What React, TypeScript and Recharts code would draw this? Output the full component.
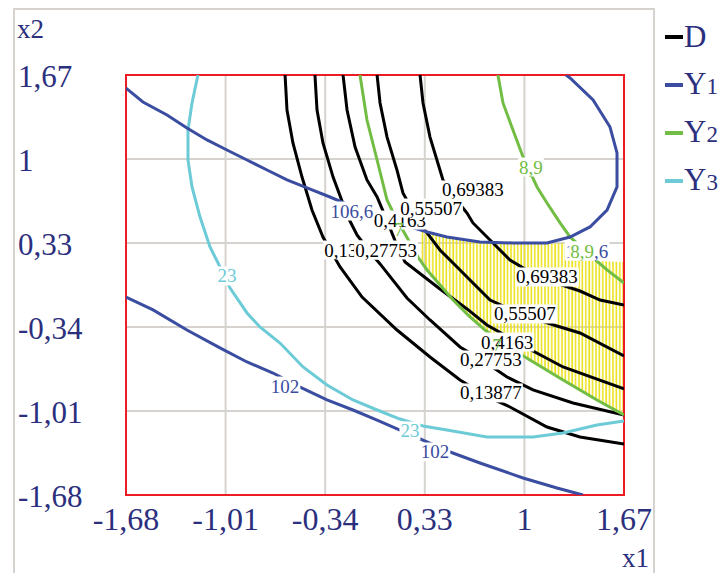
import React from 'react'
import {
  ComposedChart, Line, Area, Scatter, XAxis, YAxis, CartesianGrid, ReferenceArea,
} from 'recharts'

// axes
const xTicks = [-1.68, -1.01, -0.34, 0.33, 1, 1.67]
const yTicks = [-1.68, -1.01, -0.34, 0.33, 1, 1.67]
const tickLabels = ['-1,68', '-1,01', '-0,34', '0,33', '1', '1,67']

// D contours (0,13877 ... 0,69383)
const dLevel1 = [[-0.610, 1.67], [-0.597, 1.391], [-0.557, 1.128], [-0.496, 0.856], [-0.429, 0.593], [-0.355, 0.378], [-0.240, 0.139], [-0.092, -0.101], [0.143, -0.364], [0.365, -0.579], [0.567, -0.763], [0.769, -0.906], [0.903, -0.978], [1.152, -1.138], [1.374, -1.217], [1.67, -1.273]]
const dLevel2 = [[-0.409, 1.67], [-0.395, 1.391], [-0.355, 1.128], [-0.287, 0.856], [-0.187, 0.537], [-0.126, 0.394], [-0.039, 0.258], [0.029, 0.163], [0.210, -0.109], [0.365, -0.284], [0.567, -0.499], [0.735, -0.619], [0.883, -0.739], [1.058, -0.842], [1.327, -0.946], [1.67, -1.042]]
const dLevel3 = [[-0.220, 1.67], [-0.193, 1.391], [-0.139, 1.096], [-0.059, 0.833], [0.009, 0.697], [0.069, 0.529], [0.136, 0.330], [0.197, 0.178], [0.432, -0.037], [0.614, -0.196], [0.748, -0.324], [1.058, -0.531], [1.260, -0.659], [1.67, -0.834]]
const dLevel4 = [[0.009, 1.67], [0.029, 1.447], [0.076, 1.175], [0.143, 0.912], [0.183, 0.729], [0.264, 0.553], [0.345, 0.410], [0.432, 0.274], [0.547, 0.139], [0.654, 0.011], [0.769, -0.125], [1.004, -0.252], [1.219, -0.332], [1.374, -0.388], [1.67, -0.571]]
const dLevel5 = [[0.298, 1.67], [0.318, 1.447], [0.365, 1.175], [0.432, 0.912], [0.452, 0.833], [0.533, 0.689], [0.614, 0.569], [0.654, 0.490], [0.789, 0.330], [0.903, 0.194], [1.105, 0.051], [1.374, -0.053], [1.509, -0.125], [1.67, -0.164]]

// Y1 contours (106,6 and 102)
const y1Upper = [[-1.68, 1.566], [-1.566, 1.455], [-1.404, 1.351], [-1.270, 1.247], [-1.135, 1.152], [-1.001, 1.072], [-0.866, 0.992], [-0.731, 0.912], [-0.597, 0.833], [-0.462, 0.769], [-0.308, 0.697], [-0.018, 0.553], [0.345, 0.418], [0.479, 0.378], [0.701, 0.338], [0.923, 0.330], [1.152, 0.330], [1.307, 0.378], [1.441, 0.458], [1.556, 0.593], [1.623, 0.777], [1.623, 1.048], [1.576, 1.255], [1.462, 1.471], [1.307, 1.646], [1.28, 1.67]]
const y1Lower = [[-1.68, -0.101], [-1.498, -0.204], [-1.270, -0.364], [-1.048, -0.507], [-0.866, -0.619], [-0.691, -0.707], [-0.509, -0.819], [-0.328, -0.922], [-0.153, -1.002], [0.009, -1.082], [0.163, -1.162], [0.500, -1.337], [0.701, -1.425], [0.991, -1.544], [1.219, -1.624], [1.394, -1.68]]

// Y2 contours (7 and 8,9)
const y2Lower = [[-0.106, 1.67], [-0.059, 1.311], [0.009, 0.992], [0.076, 0.673], [0.109, 0.593], [0.163, 0.474], [0.284, 0.218], [0.345, 0.115], [0.520, -0.125], [0.634, -0.260], [0.735, -0.364], [0.870, -0.484], [1.004, -0.579], [1.260, -0.763], [1.488, -0.922], [1.67, -1.042]]
const y2Upper = [[0.822, 1.67], [0.856, 1.447], [0.923, 1.231], [0.991, 1.016], [1.085, 0.777], [1.152, 0.649], [1.240, 0.490], [1.307, 0.378], [1.441, 0.234], [1.556, 0.115], [1.67, 0.011]]

// Y3 contour (23)
const y3Line = [[-1.196, 1.67], [-1.236, 1.447], [-1.263, 1.231], [-1.263, 0.992], [-1.236, 0.777], [-1.182, 0.537], [-1.115, 0.298], [-1.061, 0.171], [-0.980, -0.029], [-0.866, -0.228], [-0.779, -0.340], [-0.644, -0.468], [-0.489, -0.659], [-0.328, -0.803], [-0.153, -0.922], [0.009, -1.002], [0.163, -1.074], [0.318, -1.130], [0.479, -1.162], [0.748, -1.217], [1.058, -1.217], [1.260, -1.186], [1.488, -1.122], [1.67, -1.090]]

// feasible (hatched) region
const hatchX = [0.298, 0.345, 0.479, 0.520, 0.634, 0.701, 0.735, 0.923, 1.004, 1.152, 1.260, 1.307, 1.441, 1.488, 1.67]
const hatchLow = [0.218, 0.115, -0.069, -0.125, -0.260, -0.337, -0.364, -0.515, -0.579, -0.683, -0.763, -0.795, -0.890, -0.922, -1.042]
const hatchHigh = [0.426, 0.418, 0.378, 0.370, 0.346, 0.338, 0.338, 0.330, 0.330, 0.322, 0.330, 0.290, 0.194, 0.186, 0.178]

// contour labels: [x, y, text, series, box]
const contourLabels: [number, number, string, string, boolean][] = [
  [-0.139, 0.274, '0,13877', 'D', true],
  [0.069, 0.274, '0,27753', 'D', true],
  [0.163, 0.513, '0,4163', 'D', true],
  [-0.160, 0.585, '106,6', 'Y1', true],
  [0.372, 0.609, '0,55507', 'D', true],
  [0.156, 0.434, '7', 'Y2', false],
  [0.654, 0.753, '0,69383', 'D', true],
  [1.044, 0.936, '8,9', 'Y2', true],
  [1.421, 0.266, '106,6', 'Y1', true],
  [1.388, 0.266, '8,9', 'Y2', true],
  [1.152, 0.059, '0,69383', 'D', true],
  [1.004, -0.236, '0,55507', 'D', true],
  [0.883, -0.460, '0,4163', 'D', true],
  [0.816, -0.484, '7', 'Y2', false],
  [0.775, -0.603, '0,27753', 'D', true],
  [0.775, -0.866, '0,13877', 'D', true],
  [-1.001, 0.067, '23', 'Y3', true],
  [0.230, -1.169, '23', 'Y3', true],
  [-0.610, -0.811, '102', 'Y1', true],
  [0.399, -1.337, '102', 'Y1', true],
]

const seriesNames = ['D', 'Y1', 'Y2', 'Y3']
const colors: Record<string, string> = {
  D: '#000000',
  Y1: '#3a4da0',
  Y2: '#72bd44',
  Y3: '#6ccbd6',
}

const navy = '#2b2f7d'
const serif = "'Liberation Serif', 'Times New Roman', serif"

const toPts = (arr: number[][]) => arr.map(([x, y]) => ({ x, y }))
const hatchData = hatchX.map((x, i) => ({ x, range: [hatchLow[i], hatchHigh[i]] }))
const labelData = contourLabels.map(([x, y, text, s, box]) => ({ x, y, text, color: colors[s], box }))

const contours = [
  { key: 'd1', s: 'D', data: dLevel1 },
  { key: 'd2', s: 'D', data: dLevel2 },
  { key: 'd3', s: 'D', data: dLevel3 },
  { key: 'd4', s: 'D', data: dLevel4 },
  { key: 'd5', s: 'D', data: dLevel5 },
  { key: 'y2a', s: 'Y2', data: y2Lower },
  { key: 'y2b', s: 'Y2', data: y2Upper },
  { key: 'y3', s: 'Y3', data: y3Line },
  { key: 'y1a', s: 'Y1', data: y1Upper },
  { key: 'y1b', s: 'Y1', data: y1Lower },
]

const textWidth = (t: string) => t.split('').reduce((w, c) => w + (c === ',' ? 4.75 : 9.5), 0)

const ContourLabel = (props: any) => {
  const { cx, cy, payload } = props
  const w = textWidth(payload.text)
  return (
    <g>
      {payload.box && <rect x={cx - w / 2 - 1} y={cy - 9.5} width={w + 2} height={19} fill="#ffffff" />}
      <text x={cx} y={cy} dy={6.5} textAnchor="middle" fontSize={19} fontFamily={serif} fill={payload.color}>
        {payload.text}
      </text>
    </g>
  )
}

const XTick = (props: any) => {
  const { x, y, payload, index } = props
  return (
    <text x={x} y={y} dy={35} textAnchor="middle" fontSize={32} fontFamily={serif} fill={navy}>
      {tickLabels[index] ?? payload.value}
    </text>
  )
}

const YTick = (props: any) => {
  const { y, payload, index } = props
  return (
    <text x={18} y={y} dy={12} textAnchor="start" fontSize={31} fontFamily={serif} fill={navy}>
      {tickLabels[index] ?? payload.value}
    </text>
  )
}

export default function App() {
  return (
    <div style={{ position: 'absolute', left: 0, top: 0, width: 721, height: 573, background: '#fff', overflow: 'hidden' }}>
      <div style={{ position: 'absolute', left: 13, top: 8, width: 638, height: 620, border: '2px solid #d6d3ce' }} />
      <div style={{ position: 'absolute', left: 17, top: 14, fontFamily: serif, fontSize: 27, color: navy }}>x2</div>
      <div style={{ position: 'absolute', left: 622, top: 543, fontFamily: serif, fontSize: 27, color: navy }}>x1</div>
      <div style={{ position: 'absolute', left: 0, top: 0 }}>
        <ComposedChart width={721} height={573} margin={{ top: 75, right: 97, bottom: 0, left: 0 }}>
          <defs>
            <pattern id="hatch" width="3.4" height="10" patternUnits="userSpaceOnUse">
              <line x1="1" y1="0" x2="1" y2="10" stroke="#ece21a" strokeWidth="1.6" />
            </pattern>
          </defs>
          <CartesianGrid stroke="#d6d3ce" strokeWidth={2} />
          <XAxis
            type="number" dataKey="x" domain={[-1.68, 1.67]} ticks={xTicks} allowDataOverflow
            axisLine={false} tickLine={false} tickSize={0} tickMargin={0} height={78} tick={<XTick />} interval={0}
          />
          <YAxis
            type="number" dataKey="y" domain={[-1.68, 1.67]} ticks={yTicks} allowDataOverflow
            axisLine={false} tickLine={false} width={126} tick={<YTick />} interval={0}
          />
          <Area
            data={hatchData} dataKey="range" type="linear" stroke="none" fill="url(#hatch)" fillOpacity={1}
            isAnimationActive={false} legendType="none"
          />
          {contours.map((c) => (
            <Line
              key={c.key} data={toPts(c.data)} dataKey="y" type="linear" stroke={colors[c.s]} strokeWidth={3}
              dot={false} activeDot={false} isAnimationActive={false} legendType="none"
            />
          ))}
          <Scatter data={labelData} dataKey="y" shape={ContourLabel} isAnimationActive={false} legendType="none" />
          <ReferenceArea x1={-1.68} x2={1.67} y1={-1.68} y2={1.67} fill="none" stroke="#ed1c24" strokeWidth={2} />
        </ComposedChart>
      </div>
      {seriesNames.map((s, i) => (
        <div
          key={s}
          style={{ position: 'absolute', left: 665, top: 17 + i * 48, height: 40, display: 'flex', alignItems: 'center', fontFamily: serif, color: navy }}
        >
          <span style={{ display: 'inline-block', width: 18, height: 4, background: colors[s], marginRight: 1 }} />
          <span style={{ fontSize: 31, lineHeight: '40px', whiteSpace: 'nowrap' }}>
            {s[0]}
            {s.length > 1 && <span style={{ fontSize: 23 }}>{s.slice(1)}</span>}
          </span>
        </div>
      ))}
    </div>
  )
}
